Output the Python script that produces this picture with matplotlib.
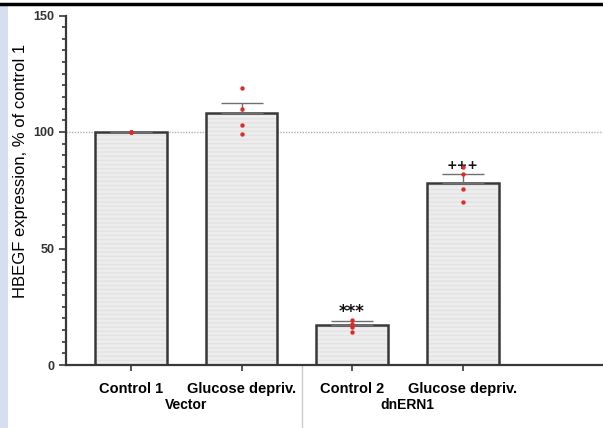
import matplotlib
matplotlib.use("Agg")
import matplotlib.pyplot as plt
from matplotlib.patches import Rectangle
from matplotlib.lines import Line2D

categories = ["Control 1", "Glucose depriv.", "Control 2", "Glucose depriv."]
groups = ["Vector", "dnERN1"]
means = [100, 108, 17, 78]
sems = [0, 4.3, 1.9, 3.8]
points = [
    [100, 100, 100, 100],
    [119, 110, 103, 99],
    [19.3, 17.6, 16.3, 14.2],
    [85, 82, 75.4, 70],
]
marks = ["", "", "***", "+++"]

plt.rcParams["font.family"] = ["Liberation Sans", "DejaVu Sans"]

fig = plt.figure(figsize=(6.03, 4.28), dpi=100)
ax = fig.add_axes([66 / 603, 63 / 428, 537 / 603, 349.5 / 428])

# page decorations
fig.patches.append(Rectangle((0, 0), 8 / 603, 422 / 428, transform=fig.transFigure,
                             facecolor="#d5dff0", edgecolor="none", zorder=0))
fig.lines.append(Line2D([0, 1], [424.5 / 428, 424.5 / 428], transform=fig.transFigure,
                        color="black", linewidth=2.5))

x = list(range(len(categories)))
ax.axhline(100, color="#b0b0b0", linestyle=(0, (1, 1)), linewidth=1, zorder=1)

ax.bar(x, means, width=0.65, color="#ededed", hatch="----", edgecolor="#e3e3e3",
       linewidth=0, zorder=2)
ax.bar(x, means, width=0.65, fill=False, edgecolor="#383838", linewidth=1.8, zorder=3)

ax.errorbar(x, means, yerr=[[0] * 4, sems], fmt="none", ecolor="#707070",
            elinewidth=1, capsize=15, capthick=1, zorder=4)

for xi, pts in zip(x, points):
    ax.scatter([xi] * len(pts), pts, s=10, color="#e02a2a", zorder=5, linewidths=0)

mark_size = {"***": 12, "+++": 9}
for xi, m, s, mk in zip(x, means, sems, marks):
    if mk:
        ax.text(xi, m + s + 4, mk, ha="center", va="center", fontsize=mark_size[mk],
                fontweight="bold", color="#111111", family="DejaVu Sans")

ax.set_xlim(-0.588, 4.27)
ax.set_ylim(0, 150)
ax.set_yticks([0, 50, 100, 150])
ax.set_yticks(range(0, 151, 5), minor=True)
ax.set_xticks(x)
ax.set_xticklabels(categories, fontsize=10.5, fontweight="bold")
ax.tick_params(axis="x", length=4, width=1.2, pad=8, color="#383838")
ax.tick_params(axis="y", which="major", length=5, width=1.2, labelsize=9,
               color="#383838", labelcolor="#333333")
ax.tick_params(axis="y", which="minor", length=3, width=1.2, color="#383838")
for lbl in ax.get_yticklabels():
    lbl.set_fontweight("bold")
for side in ["top", "right"]:
    ax.spines[side].set_visible(False)
for side in ["left", "bottom"]:
    ax.spines[side].set_linewidth(1.6)
    ax.spines[side].set_color("#383838")

ax.set_ylabel("HBEGF expression, % of control 1", fontsize=12)
ax.yaxis.set_label_coords(-0.07, 0.555)

# group labels and separator
ax.text(0.5, -0.115, groups[0], transform=ax.get_xaxis_transform(), ha="center",
        va="center", fontsize=10, fontweight="bold")
ax.text(2.5, -0.115, groups[1], transform=ax.get_xaxis_transform(), ha="center",
        va="center", fontsize=10, fontweight="bold")
ax.plot([1.55, 1.55], [0, -0.2], transform=ax.get_xaxis_transform(),
        color="#cccccc", linewidth=1, clip_on=False)

plt.savefig("out.png", dpi=100)
